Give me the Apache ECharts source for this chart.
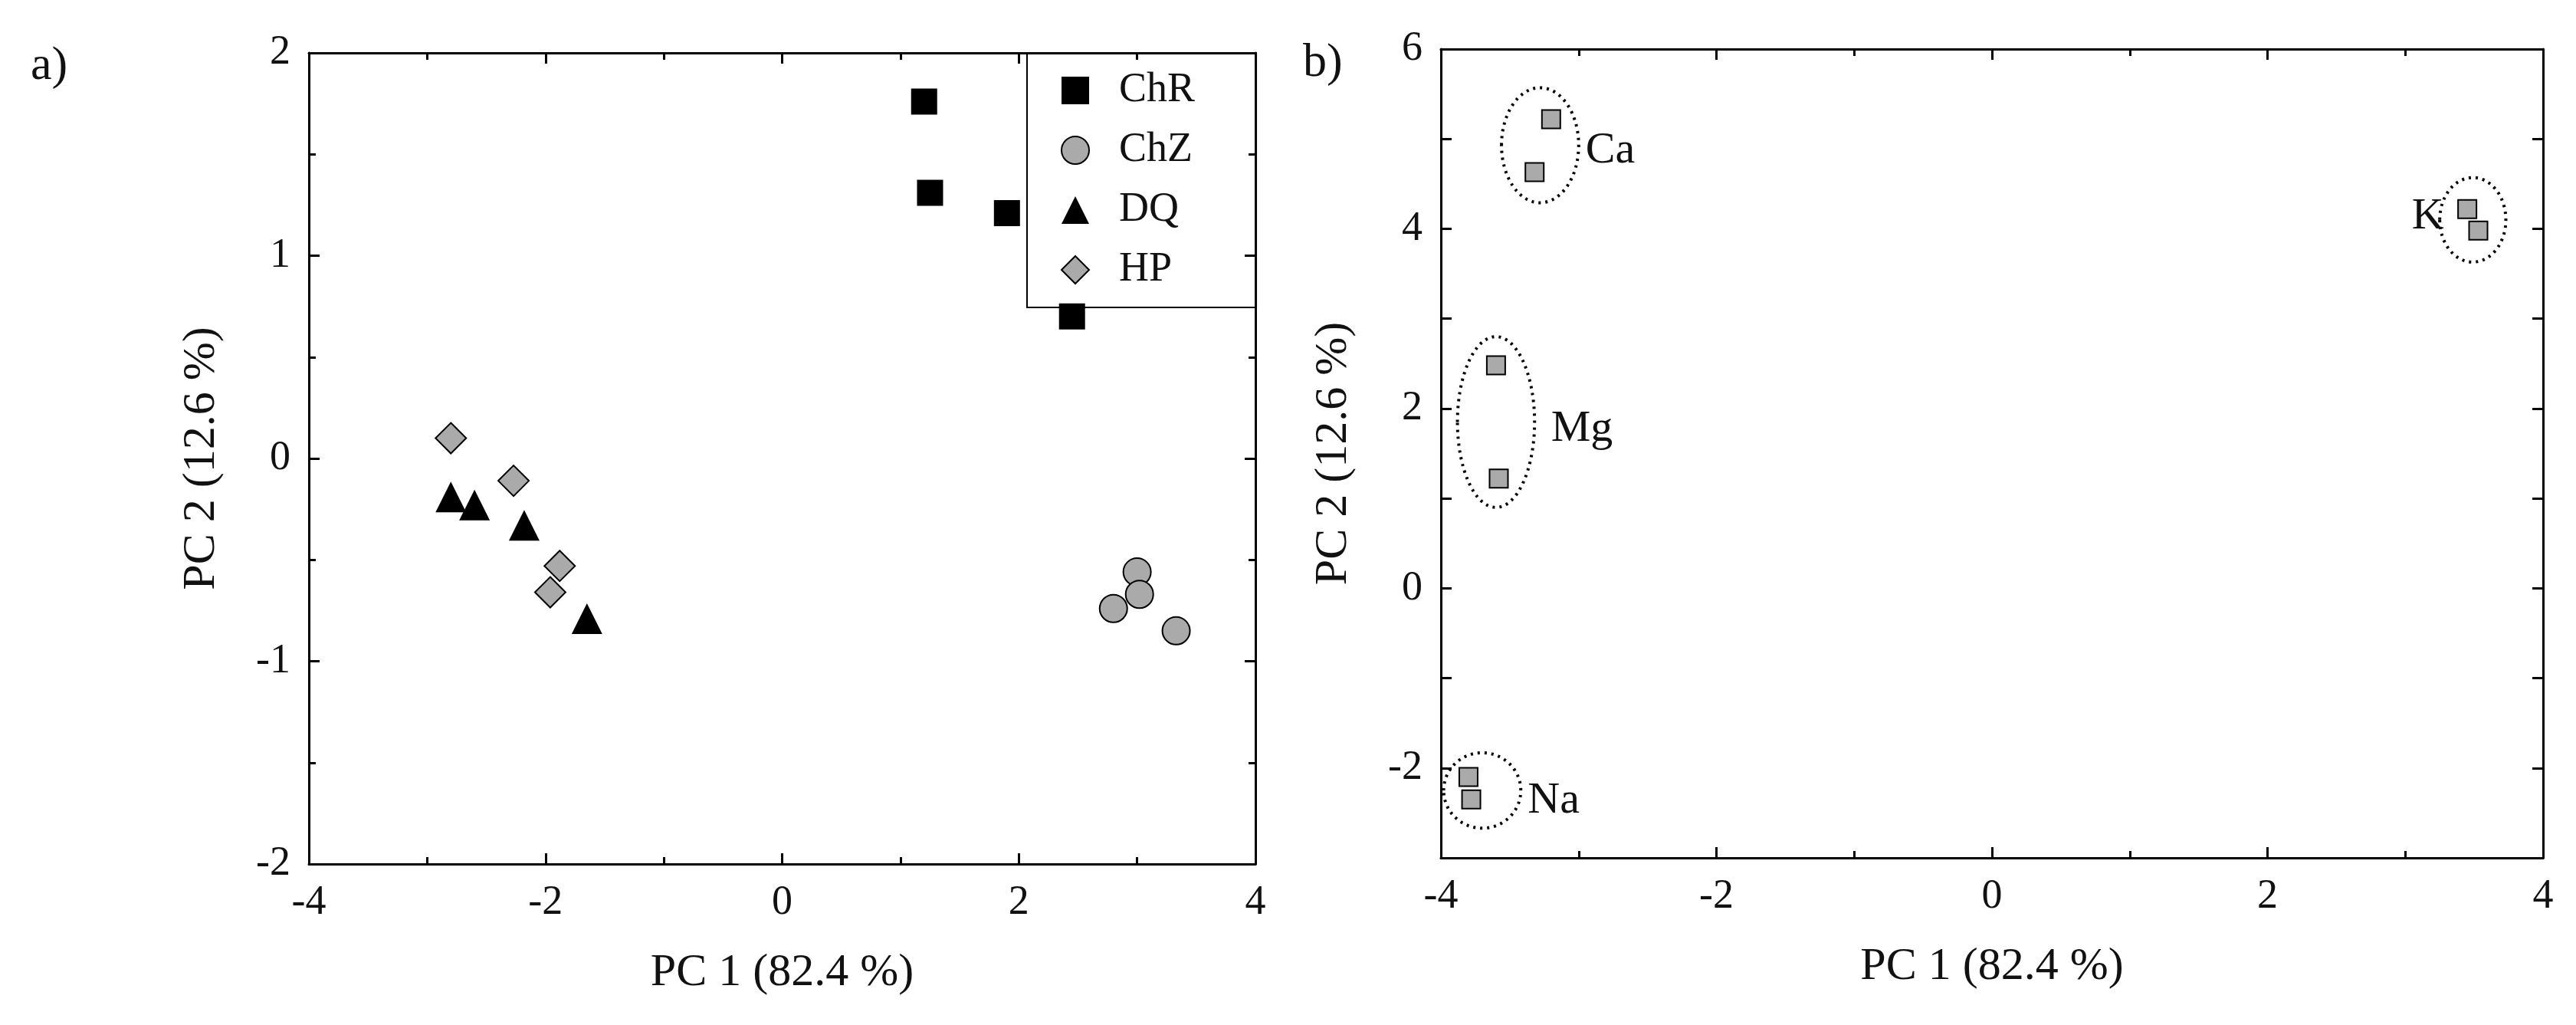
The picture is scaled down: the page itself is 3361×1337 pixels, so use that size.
<!DOCTYPE html>
<html><head><meta charset="utf-8">
<script src="https://cdn.jsdelivr.net/npm/echarts@6/dist/echarts.min.js"></script>
<style>html,body{margin:0;background:#fff}#c{width:3361px;height:1337px}</style>
</head><body><div id="c"></div>
<script>
const ChR=[[1.2,1.76],[1.25,1.31],[1.9,1.21],[2.45,0.70]];
const ChZ=[[3.0,-0.56],[3.02,-0.67],[2.8,-0.74],[3.33,-0.85]];
const DQ=[[-2.8,-0.19],[-2.6,-0.23],[-2.18,-0.33],[-1.65,-0.79]];
const HP=[[-2.8,0.10],[-2.27,-0.11],[-1.88,-0.53],[-1.96,-0.66]];
const loadings=[[-3.2,5.22],[-3.32,4.63],[3.45,4.22],[3.53,3.98],[-3.6,2.48],[-3.58,1.22],[-3.8,-2.1],[-3.78,-2.35]];
const groupNames=['Ca','K','Mg','Na'];
const groupEllipses=[[-3.28,4.93,0.28,0.64],[3.49,4.1,0.24,0.47],[-3.6,1.85,0.28,0.95],[-3.7,-2.25,0.28,0.42]];
const groupLabelPos=[[-2.95,4.87,'left'],[3.28,4.13,'right'],[-3.2,1.77,'left'],[-3.37,-2.37,'left']];

const F='Liberation Serif';
const grids=[{left:403,top:69,width:1235,height:1058},{left:1880,top:64,width:1438,height:1055}];
const lineS={color:'#000',width:3};
function xax(i,min,max,pos,show){return {gridIndex:i,type:'value',min:min,max:max,interval:2,position:pos,
 axisLine:{onZero:false,lineStyle:lineS},axisTick:{inside:true,length:14,lineStyle:lineS},
 minorTick:{show:true,splitNumber:2,length:9,lineStyle:lineS},splitLine:{show:false},
 axisLabel:{show:show,fontFamily:F,fontSize:54,color:'#111',margin:24},
 name:show?'PC 1 (82.4 %)':'',nameLocation:'middle',nameGap:112,nameTextStyle:{fontFamily:F,fontSize:60,color:'#111'}};}
function yax(i,min,max,pos,show,odd){return {gridIndex:i,type:'value',min:min,max:max,interval:1,position:pos,
 axisLine:{onZero:false,lineStyle:lineS},axisTick:{inside:true,length:14,lineStyle:lineS},
 minorTick:{show:!odd,splitNumber:2,length:9,lineStyle:lineS},splitLine:{show:false},
 axisLabel:{show:show,fontFamily:F,fontSize:54,color:'#111',margin:24,formatter:v=>(odd&&Math.abs(v%2)==1)?'':String(v)},
 name:show?'PC 2 (12.6 %)':'',nameLocation:'middle',nameGap:110,nameTextStyle:{fontFamily:F,fontSize:60,color:'#111'}};}
const ell=groupEllipses.map((e,k)=>e.concat([k]));
const chart=echarts.init(document.getElementById('c'));
chart.setOption({
 animation:false,
 grid:grids,
 xAxis:[xax(0,-4,4,'bottom',true),xax(0,-4,4,'top',false),xax(1,-4,4,'bottom',true),xax(1,-4,4,'top',false)],
 yAxis:[yax(0,-2,2,'left',true,false),yax(0,-2,2,'right',false,false),yax(1,-3,6,'left',true,true),yax(1,-3,6,'right',false,true)],
 legend:{left:1340,top:69,orient:'vertical',borderColor:'#000',borderWidth:2,borderRadius:0,
  padding:[22,80,22,44],itemGap:24,itemWidth:36,itemHeight:36,textStyle:{fontFamily:F,fontSize:54,color:'#111',padding:[0,0,0,34]},
  data:['ChR','ChZ','DQ','HP']},
 graphic:[{type:'text',left:40,top:56,style:{text:'a)',font:'62px "Liberation Serif"',fill:'#111'}},
  {type:'text',left:1700,top:52,style:{text:'b)',font:'62px "Liberation Serif"',fill:'#111'}}],
 series:[
  {name:'ChR',type:'scatter',xAxisIndex:0,yAxisIndex:0,data:ChR,symbol:'rect',symbolSize:34,itemStyle:{color:'#000',opacity:1}},
  {name:'ChZ',type:'scatter',xAxisIndex:0,yAxisIndex:0,data:ChZ,symbol:'circle',symbolSize:36,itemStyle:{color:'#aaa',borderColor:'#000',borderWidth:2,opacity:1}},
  {name:'DQ',type:'scatter',xAxisIndex:0,yAxisIndex:0,data:DQ,symbol:'triangle',symbolSize:40,itemStyle:{color:'#000',opacity:1}},
  {name:'HP',type:'scatter',xAxisIndex:0,yAxisIndex:0,data:HP,symbol:'diamond',symbolSize:40,itemStyle:{color:'#aaa',borderColor:'#000',borderWidth:2,opacity:1}},
  {type:'custom',xAxisIndex:2,yAxisIndex:2,data:ell,silent:true,renderItem:function(p,api){
    const c=api.coord([api.value(0),api.value(1)]);const s=api.size([api.value(2),api.value(3)]);
    const lp=groupLabelPos[api.value(4)];const lc=api.coord([lp[0],lp[1]]);
    return {type:'group',children:[{type:'ellipse',shape:{cx:c[0],cy:c[1],rx:s[0],ry:s[1]},style:{fill:'none',stroke:'#000',lineWidth:4,lineDash:[3,6]}},
     {type:'text',x:lc[0],y:lc[1],style:{text:groupNames[api.value(4)],font:'58px "Liberation Serif"',fill:'#111',align:lp[2],verticalAlign:'middle'}}]};
  }},
  {type:'scatter',xAxisIndex:2,yAxisIndex:2,data:loadings,symbol:'rect',symbolSize:24,itemStyle:{color:'#aaa',borderColor:'#000',borderWidth:2,opacity:1}}
 ]
});
</script></body></html>
